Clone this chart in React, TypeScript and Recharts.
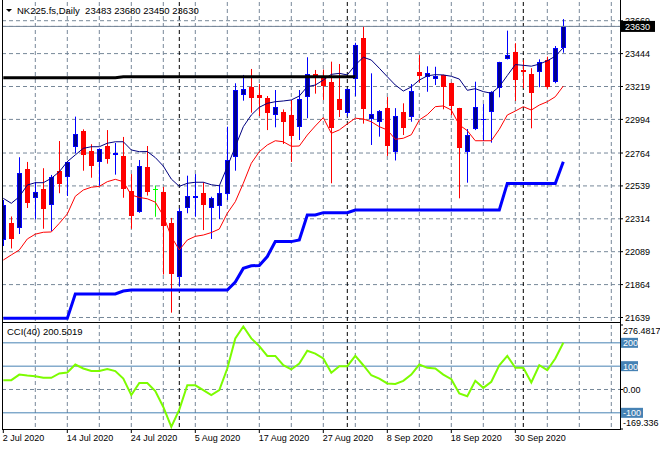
import React from "react";
import {
  ComposedChart, Bar, Line, XAxis, YAxis, CartesianGrid, ReferenceLine,
} from "recharts";

const FONT = "'Liberation Sans', Arial, sans-serif";
const GRID = "#778899";

// daily bars, index 0 = 2 Jul 2020, last = 8 Oct 2020
const openPrices = [22169, 22283, 22253, 22653, 22454, 22518, 22411, 22641, 22602, 22807,
  22915, 22778, 22705, 22812, 22753, 22744, 22504, 22359, 22670, 22518,
  22497, 22285, 21913, 22390, 22458, 22491, 22390, 22404, 22482, 22735,
  23163, 23218, 23159, 23142, 23026, 23045, 23024, 22939, 23144, 23305,
  23284, 23250, 23134, 23038, 23272, 23553, 22999, 22978, 23072, 22768,
  23043, 23012, 23318, 23282, 23272, 23298, 23241, 23070, 22773, 22928,
  22990, 23043, 23207, 23407, 23453, 23332, 23305, 23315, 23400, 23252,
  23483];
const highPrices = [22443, 22330, 22735, 22703, 22568, 22660, 22614, 22846, 22710, 23013,
  22926, 22824, 22796, 22921, 22833, 22874, 22620, 22716, 22812, 22542,
  22532, 22320, 22386, 22609, 22620, 22564, 22465, 22545, 22944, 23241,
  23298, 23339, 23236, 23154, 23195, 23062, 23127, 23195, 23419, 23332,
  23335, 23389, 23373, 23205, 23518, 23633, 23309, 23058, 23147, 23071,
  23104, 23236, 23434, 23357, 23354, 23300, 23245, 23073, 22928, 23252,
  23099, 23187, 23388, 23601, 23515, 23400, 23344, 23405, 23423, 23496,
  23680];
const lowPrices = [22128, 22111, 22210, 22388, 22311, 22246, 22231, 22489, 22470, 22762,
  22643, 22595, 22540, 22691, 22616, 22458, 22246, 22355, 22473, 22328,
  21933, 21672, 21850, 22352, 22328, 22237, 22176, 22313, 22443, 22643,
  23122, 23040, 23017, 22921, 22940, 22826, 22703, 22853, 23002, 23170,
  23127, 22557, 23010, 23014, 23153, 22965, 22819, 22876, 22744, 22713,
  22887, 22978, 23246, 23183, 23229, 23063, 23024, 22454, 22561, 22921,
  22846, 22835, 23145, 23404, 23120, 23207, 22933, 23214, 23204, 23241,
  23450];
const closePrices = [22409, 22178, 22625, 22424, 22495, 22383, 22602, 22554, 22701, 22894,
  22753, 22677, 22790, 22725, 22766, 22520, 22335, 22675, 22499, 22518,
  22265, 21937, 22367, 22470, 22472, 22409, 22458, 22491, 22716, 23195,
  23201, 23142, 23142, 23040, 23077, 22978, 22883, 23132, 23305, 23290,
  23222, 22937, 23058, 23200, 23503, 23065, 23029, 23053, 22812, 23017,
  22937, 23188, 23291, 23311, 23291, 23218, 23086, 22796, 22887, 23077,
  22997, 23184, 23385, 23434, 23264, 23318, 23177, 23389, 23214, 23480,
  23630];

// indicator lines on the price pane
const upperLine = [22454, 22420, 22465, 22545, 22561, 22561, 22591, 22636, 22705, 22751,
  22796, 22807, 22807, 22831, 22841, 22841, 22785, 22773, 22774, 22733,
  22675, 22586, 22536, 22557, 22564, 22564, 22547, 22540, 22670, 22807,
  22944, 23024, 23077, 23104, 23115, 23120, 23127, 23154, 23218, 23229,
  23263, 23302, 23309, 23298, 23366, 23419, 23400, 23344, 23286, 23229,
  23188, 23216, 23263, 23292, 23300, 23298, 23289, 23270, 23193, 23204,
  23184, 23173, 23218, 23294, 23369, 23364, 23358, 23372, 23395, 23426,
  23484];
const lowerLine = [22032, 22067, 22101, 22176, 22209, 22222, 22224, 22283, 22347, 22468,
  22511, 22530, 22536, 22568, 22584, 22568, 22477, 22460, 22451, 22428,
  22335, 22192, 22101, 22169, 22194, 22203, 22220, 22244, 22352, 22431,
  22557, 22694, 22773, 22819, 22848, 22841, 22810, 22812, 22887, 22949,
  23006, 22899, 22922, 22963, 23002, 22997, 22978, 22944, 22922, 22858,
  22865, 22889, 22990, 23026, 23081, 23086, 23058, 22956, 22917, 22848,
  22848, 22848, 22926, 23024, 23051, 23081, 23058, 23092, 23115, 23149,
  23222];
const stepLine = [21633, 21633, 21633, 21633, 21633, 21633, 21633, 21633, 21633, 21800,
  21800, 21800, 21800, 21800, 21800, 21820, 21827, 21827, 21827, 21827,
  21827, 21827, 21827, 21827, 21827, 21827, 21827, 21827, 21827, 21882,
  21975, 21993, 21995, 22056, 22158, 22158, 22158, 22169, 22340, 22340,
  22356, 22356, 22356, 22356, 22374, 22374, 22374, 22374, 22374, 22374,
  22374, 22374, 22374, 22374, 22374, 22374, 22374, 22374, 22374, 22374,
  22374, 22374, 22374, 22556, 22556, 22556, 22556, 22556, 22556, 22556,
  22705];
const blackLine = [23279, 23279, 23279, 23279, 23279, 23279, 23279, 23279, 23279, 23279,
  23279, 23279, 23279, 23279, 23279, 23286, 23286, 23286, 23286, 23286,
  23286, 23286, 23286, 23286, 23286, 23286, 23286, 23286, 23286, 23286,
  23286, 23286, 23286, 23286, 23286, 23286, 23286, 23286, 23286, 23286,
  23286, 23286, 23286, 23286, 23286];

const cciValues = [40, 40, 64, 60, 57, 50, 50, 69, 73, 107,
  90, 79, 79, 88, 79, 47, -24, 28, 28, -7,
  -75, -160, -86, 18, 18, -3, -24, -3, 90, 219,
  270, 219, 186, 144, 144, 104, 86, 111, 166, 154,
  133, 72, 100, 100, 144, 104, 61, 47, 26, 24,
  37, 64, 107, 93, 90, 64, 44, -17, -29, 37,
  7, 33, 104, 144, 93, 93, 30, 104, 83, 133,
  200.5019];

const CURRENT_PRICE = 23630;
const priceTicks = [21639, 21864, 22089, 22314, 22539, 22764, 22994, 23219, 23444, 23669];
const PRICE_DOMAIN = [21615, 23797];

const dateTicks = [0, 8, 16, 24, 32, 40, 48, 56, 64];
const dateLabels = ["2 Jul 2020", "14 Jul 2020", "24 Jul 2020", "5 Aug 2020", "17 Aug 2020",
  "27 Aug 2020", "8 Sep 2020", "18 Sep 2020", "30 Sep 2020"];
const gridBars = [4, 8, 12, 16, 20, 24, 28, 32, 36, 40, 44, 48, 52, 56, 60, 64, 68, 72, 76];
const monthStarts = [22, 43, 65];
const X_DOMAIN = [-0.1625, 77.0875];

const cciTicks = [276.4817, 200, 100, 0, -100, -169.336];
const cciTickLabels = ["276.4817", "200", "100", "0.00", "-100", "-169.336"];
const cciLevels = [200, 100, -100];

const data = openPrices.map((o, i) => ({
  i,
  o,
  h: highPrices[i],
  l: lowPrices[i],
  c: closePrices[i],
  range: [lowPrices[i], highPrices[i]],
  upper: upperLine[i],
  lower: lowerLine[i],
  step: stepLine[i],
  black: i < blackLine.length ? blackLine[i] : null,
  cci: cciValues[i],
}));

const Candle = (props: any) => {
  const { x, y, width, height, payload } = props;
  const { o, h, l, c } = payload;
  const top = Math.min(y, y + height);
  const bottom = Math.max(y, y + height);
  const k = h === l ? 0 : (bottom - top) / (h - l);
  const col = Math.floor(x + width / 2 + 0.5);
  const cx = col + 0.5;
  const yo = top + (h - o) * k;
  const yc = top + (h - c) * k;
  if (o === c) {
    return (
      <g>
        <line x1={cx} x2={cx} y1={top} y2={bottom} stroke="#00ff00" />
        <line x1={col - 2} x2={col + 3} y1={Math.round(yo) + 0.5} y2={Math.round(yo) + 0.5} stroke="#00ff00" />
      </g>
    );
  }
  const up = c > o;
  const stroke = up ? "#0000ff" : "#ff0000";
  const fill = up ? "#00008b" : "#ff0000";
  const bt = Math.round(Math.min(yo, yc));
  const bb = Math.max(Math.round(Math.max(yo, yc)), bt + 1);
  return (
    <g>
      <line x1={cx} x2={cx} y1={top} y2={bottom} stroke={stroke} />
      <rect x={col - 1.5} y={bt + 0.5} width={4} height={bb - bt - 1 > 0 ? bb - bt - 1 : 0.01}
        fill={fill} stroke={stroke} strokeWidth={1} />
    </g>
  );
};

const PriceTick = (props: any) => {
  const { x, y, payload } = props;
  const v = payload.value;
  if (v === CURRENT_PRICE) {
    return (
      <g>
        <rect x={620} y={y - 5.5} width={35} height={11} fill="#000000" />
        <text x={x + 1} y={y + 3.5} fill="#ffffff" fontSize={9} fontFamily={FONT}>{v}</text>
      </g>
    );
  }
  return <text x={x + 1} y={y + 3.5} fill="#000000" fontSize={9} fontFamily={FONT}>{v}</text>;
};

const CciTick = (props: any) => {
  const { x, y, payload } = props;
  const idx = cciTicks.indexOf(payload.value);
  const label = cciTickLabels[idx];
  if (cciLevels.includes(payload.value)) {
    return (
      <g>
        <rect x={621} y={y - 5} width={label.length * 5 + 2} height={10} fill="#4682b4" />
        <text x={x} y={y + 3.5} fill="#ffffff" fontSize={9} fontFamily={FONT}>{label}</text>
      </g>
    );
  }
  let dy = 3.5;
  if (idx === 0) dy = 9;
  if (idx === cciTicks.length - 1) dy = -3;
  return <text x={x} y={y + dy} fill="#000000" fontSize={9} fontFamily={FONT}>{label}</text>;
};

const DateTick = (props: any) => {
  const { x, y, payload } = props;
  const label = dateLabels[dateTicks.indexOf(payload.value)];
  return (
    <text x={x - 0.5} y={y + 7} textAnchor="start" fill="#000000" fontSize={9} fontFamily={FONT}>
      {label}
    </text>
  );
};

function PriceChart() {
  return (
    <ComposedChart width={660} height={322} data={data} margin={{ top: 2, right: 0, bottom: 1, left: 2 }}>
      <XAxis xAxisId={0} dataKey="i" type="number" domain={X_DOMAIN} ticks={gridBars} interval={0} hide allowDataOverflow />
      <XAxis xAxisId="sep" dataKey="i" type="number" domain={X_DOMAIN} ticks={monthStarts} interval={0} hide allowDataOverflow />
      <YAxis
        yAxisId={0}
        orientation="right"
        type="number"
        width={40}
        domain={PRICE_DOMAIN}
        ticks={[...priceTicks, CURRENT_PRICE]}
        interval={0}
        allowDataOverflow
        axisLine={false}
        tickLine={{ stroke: "#000000" }}
        tickSize={3}
        tickMargin={1}
        tick={<PriceTick />}
      />
      <CartesianGrid xAxisId={0} yAxisId={0} stroke={GRID} strokeDasharray="4 3" syncWithTicks />
      <CartesianGrid xAxisId="sep" yAxisId={0} horizontal={false} stroke="#000000" strokeDasharray="4 3" syncWithTicks />
      <ReferenceLine y={CURRENT_PRICE} stroke={GRID} strokeWidth={1} />
      <Bar dataKey="range" barSize={5} shape={(p: any) => <Candle {...p} />} isAnimationActive={false} />
      <Line dataKey="upper" type="linear" stroke="#000080" strokeWidth={1} dot={false} activeDot={false} isAnimationActive={false} />
      <Line dataKey="lower" type="linear" stroke="#ff0000" strokeWidth={1} dot={false} activeDot={false} isAnimationActive={false} />
      <Line dataKey="step" type="linear" stroke="#0000ff" strokeWidth={3} dot={false} activeDot={false} isAnimationActive={false} />
      <Line dataKey="black" type="linear" stroke="#000000" strokeWidth={3} dot={false} activeDot={false} isAnimationActive={false} />
    </ComposedChart>
  );
}

function CciChart() {
  return (
    <ComposedChart width={660} height={128} data={data} margin={{ top: 3, right: 0, bottom: 0, left: 2 }}>
      <XAxis
        xAxisId={0}
        dataKey="i"
        type="number"
        domain={X_DOMAIN}
        ticks={dateTicks}
        interval={0}
        allowDataOverflow
        height={21}
        axisLine={false}
        tickLine={{ stroke: "#000000" }}
        tickSize={4}
        tickMargin={1}
        tick={<DateTick />}
      />
      <XAxis xAxisId="g" dataKey="i" type="number" domain={X_DOMAIN} ticks={gridBars} interval={0} hide allowDataOverflow />
      <XAxis xAxisId="sep" dataKey="i" type="number" domain={X_DOMAIN} ticks={monthStarts} interval={0} hide allowDataOverflow />
      <YAxis
        yAxisId={0}
        orientation="right"
        type="number"
        width={40}
        domain={[-169.336, 276.4817]}
        ticks={cciTicks}
        interval={0}
        allowDataOverflow
        axisLine={false}
        tickLine={{ stroke: "#000000" }}
        tickSize={3}
        tickMargin={0}
        tick={<CciTick />}
      />
      <YAxis yAxisId="g" type="number" domain={[-169.336, 276.4817]} ticks={[0]} hide allowDataOverflow />
      <CartesianGrid xAxisId="g" yAxisId="g" stroke={GRID} strokeDasharray="4 3" syncWithTicks />
      <CartesianGrid xAxisId="sep" yAxisId={0} horizontal={false} stroke="#000000" strokeDasharray="4 3" syncWithTicks />
      {cciLevels.map((lv) => (
        <ReferenceLine key={lv} y={lv} stroke="#4682b4" strokeWidth={1} />
      ))}
      <Line dataKey="cci" type="linear" stroke="#7cfc00" strokeWidth={2} dot={false} activeDot={false} isAnimationActive={false} />
    </ComposedChart>
  );
}

export default function App() {
  return (
    <div style={{ position: "absolute", left: 0, top: 0, width: 660, height: 450, background: "#ffffff", fontFamily: FONT }}>
      <div style={{ position: "absolute", left: 0, top: 0 }}>
        <PriceChart />
      </div>
      <div style={{ position: "absolute", left: 0, top: 322 }}>
        <CciChart />
      </div>
      {/* frame */}
      <div style={{ position: "absolute", left: 2, top: 0, width: 1, height: 430, background: "#000" }} />
      <div style={{ position: "absolute", left: 620, top: 0, width: 1, height: 430, background: "#000" }} />
      <div style={{ position: "absolute", left: 2, top: 322, width: 619, height: 1, background: "#000" }} />
      <div style={{ position: "absolute", left: 2, top: 429, width: 619, height: 1, background: "#000" }} />
      {/* titles */}
      <svg style={{ position: "absolute", left: 6, top: 9 }} width={7} height={4}>
        <polygon points="0,0 6,0 3,3" fill="#000" />
      </svg>
      <div style={{ position: "absolute", left: 17, top: 5, fontSize: 9.5, lineHeight: "11px", whiteSpace: "pre", color: "#000" }}>
        NK225.fs,Daily  23483 23680 23450 23630
      </div>
      <div style={{ position: "absolute", left: 7, top: 326, fontSize: 9.5, lineHeight: "11px", whiteSpace: "pre", color: "#000" }}>
        CCI(40) 200.5019
      </div>
    </div>
  );
}
